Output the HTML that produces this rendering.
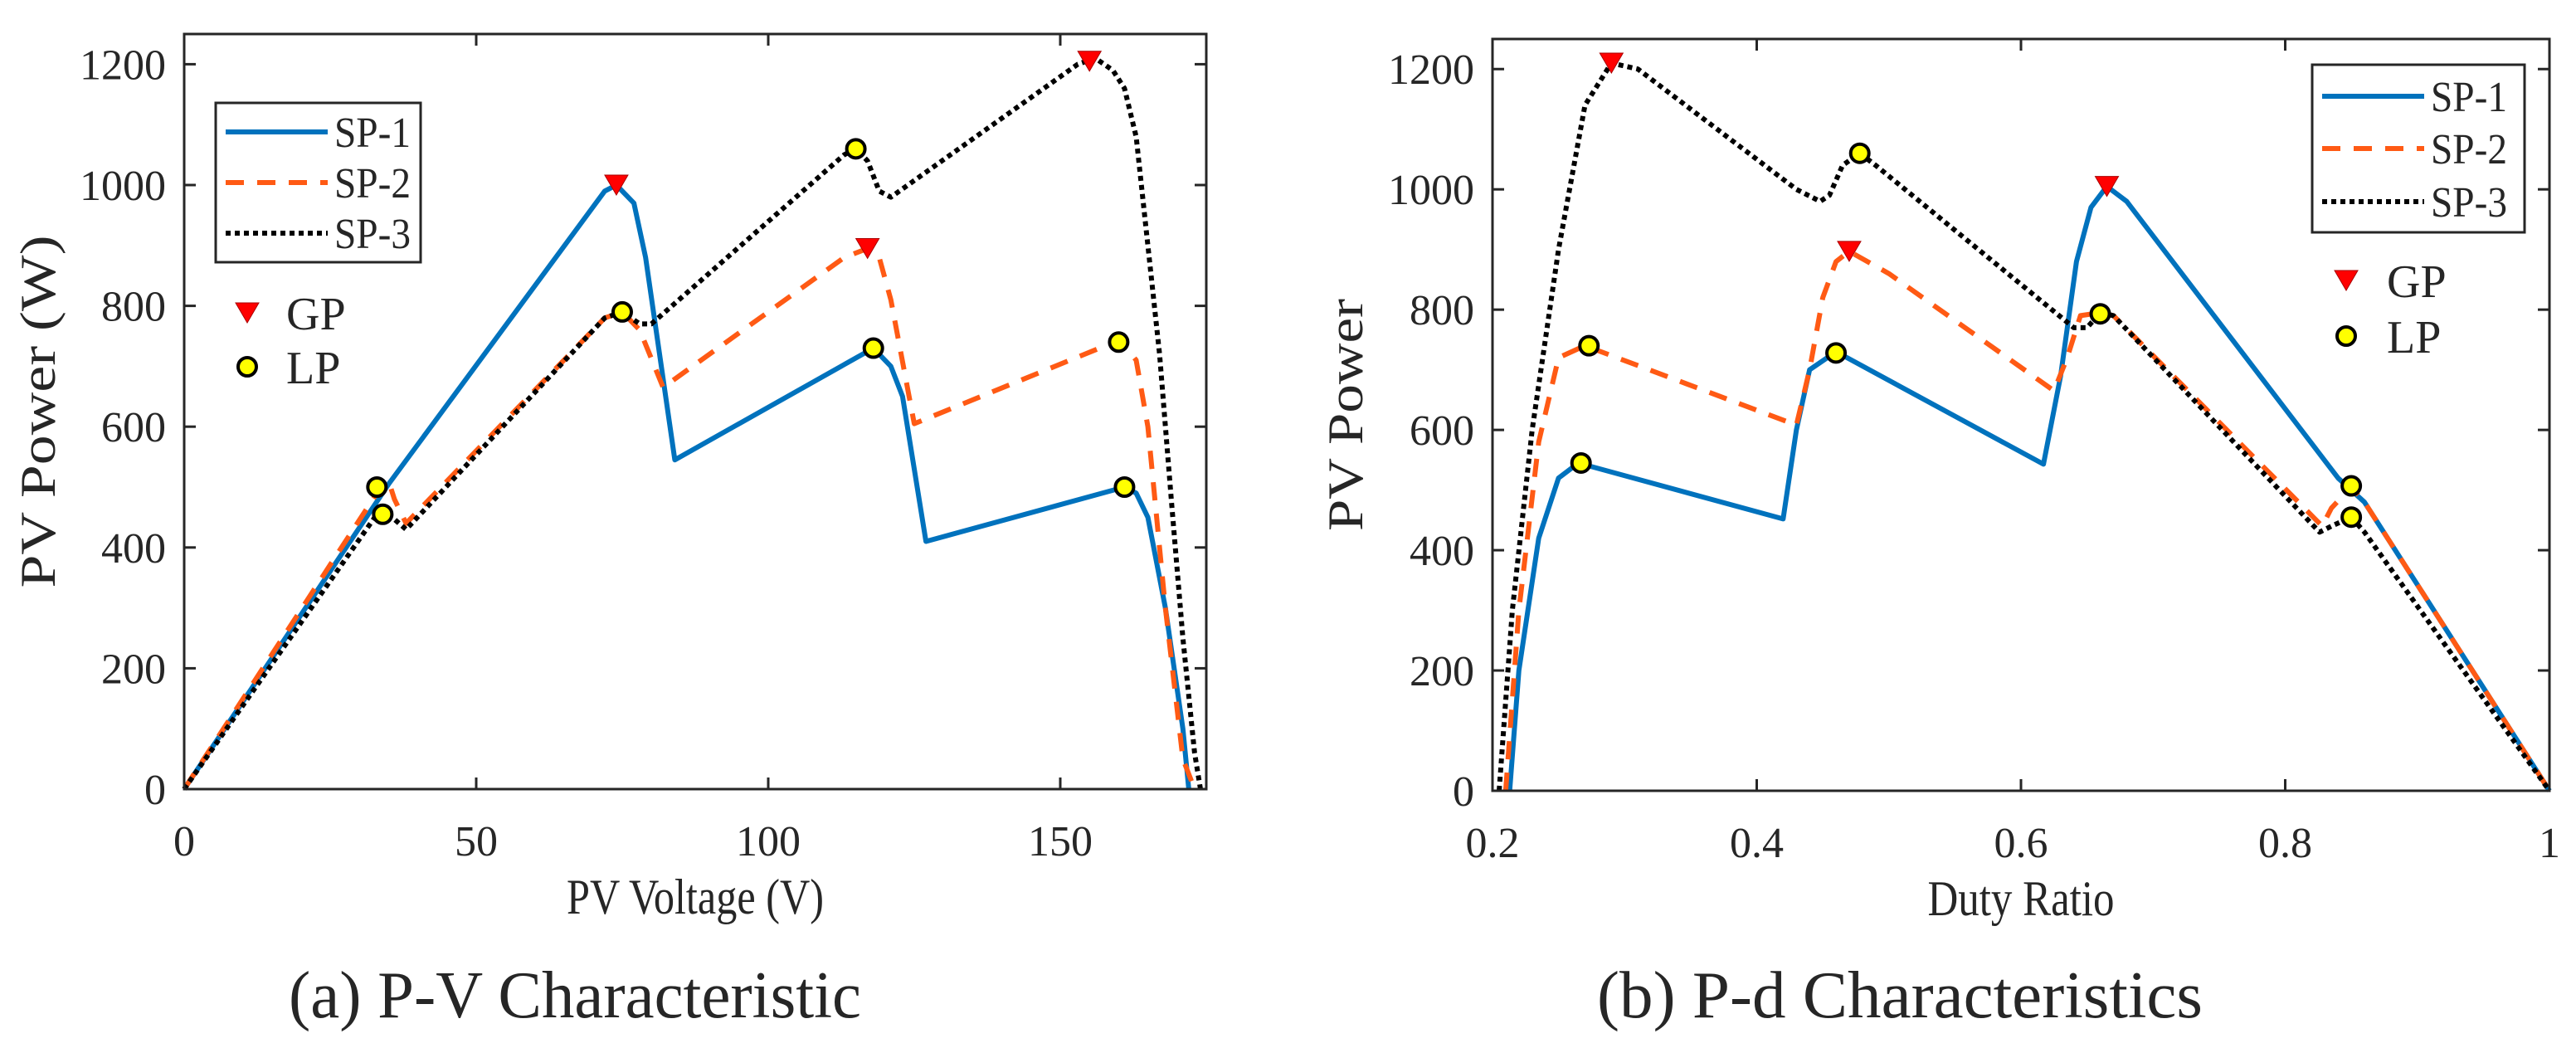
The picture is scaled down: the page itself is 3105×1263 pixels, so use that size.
<!DOCTYPE html>
<html><head><meta charset="utf-8"><style>
html,body{margin:0;padding:0;background:#fff}
svg{display:block}
text{font-family:"Liberation Serif",serif;fill:#262626}
</style></head><body>
<svg id="fig" width="3105" height="1263" viewBox="0 0 3105 1263" xmlns="http://www.w3.org/2000/svg">
<g id="pA"></g>
<g id="pB"></g>
<text x="693" y="1226" font-size="80" text-anchor="middle" textLength="690" lengthAdjust="spacingAndGlyphs" fill="#000">(a) P-V Characteristic</text>
<text x="2290" y="1226" font-size="80" text-anchor="middle" textLength="730" lengthAdjust="spacingAndGlyphs" fill="#000">(b) P-d Characteristics</text>
</svg>
<script>
// ---- Chart A data (P-V) ----
const pvX1=[0,35,72,74,77,79,84,118,121,123,127,161,163,165,168,171,172];
const pvY1=[0,505,990,1000,970,880,545,730,700,650,410,500,490,450,300,100,0];
const pvX2=[0,33,35,36,38,72,75,78,82,113,117,119,121,125,158,161,163,165,168,171,173];
const pvY2=[0,490,510,480,440,780,790,760,665,880,895,880,810,605,735,735,710,600,300,50,0];
const pvX3=[0,33,35,38,72,75,78,80,113,115,117,119,121,153,156,159,161,163,165,167,169,171,173,174];
const pvY3=[0,455,455,430,780,790,770,770,1050,1060,1040,990,980,1200,1210,1190,1160,1080,900,720,480,250,60,0];
const pvGPx=[74,117,155], pvGPy=[1000,895,1205];
const pvLPx=[33,34,75,115,118,160,161], pvLPy=[500,455,790,1060,730,740,500];
const pvXTicks=[0,50,100,150];
const pvYTicks=[0,200,400,600,800,1000,1200];
// ---- Chart B data (P-d) ----
const pdX1=[0.213,0.22,0.235,0.25,0.265,0.42,0.43,0.44,0.46,0.617,0.63,0.642,0.653,0.665,0.68,0.84,0.86,1];
const pdY1=[0,200,420,520,545,452,600,700,730,543,690,880,970,1005,980,520,480,0];
const pdX2=[0.21,0.22,0.235,0.25,0.27,0.43,0.44,0.45,0.46,0.47,0.5,0.625,0.635,0.645,0.66,0.67,0.828,0.835,0.85,0.86,1];
const pdY2=[0,300,580,720,740,608,700,820,880,897,860,665,720,790,795,790,440,470,505,480,0];
const pdX3=[0.205,0.215,0.23,0.25,0.27,0.29,0.31,0.43,0.448,0.455,0.465,0.478,0.49,0.64,0.65,0.66,0.67,0.826,0.835,0.85,0.86,1];
const pdY3=[0,300,600,900,1140,1210,1200,1000,980,990,1040,1060,1040,770,770,795,790,430,440,455,430,0];
const pdGPx=[0.29,0.47,0.665], pdGPy=[1210,897,1005];
const pdLPx=[0.267,0.273,0.46,0.478,0.66,0.85,0.85], pdLPy=[545,740,728,1060,793,507,455];
const pdXTicks=[0.2,0.4,0.6,0.8,1];
const pdXLabels=["0.2","0.4","0.6","0.8","1"];
const pdYTicks=[0,200,400,600,800,1000,1200];

const NS="http://www.w3.org/2000/svg";
function el(parent,tag,attrs){const e=document.createElementNS(NS,tag);for(const k in attrs)e.setAttribute(k,attrs[k]);parent.appendChild(e);return e;}

function chart(g,cfg){
  const sx=v=>cfg.L+(v-cfg.x0)/(cfg.x1-cfg.x0)*(cfg.R-cfg.L);
  const sy=v=>cfg.B-(v-0)/(cfg.yMax)*(cfg.B-cfg.T);
  const styles=[
    {c:"#0072BD",d:"none",n:"sp1-line"},
    {c:"#FF5A14",d:"22 16",n:"sp2-line"},
    {c:"#000",d:"6 5",n:"sp3-line"}];
  cfg.series.forEach((s,i)=>{
    const pts=s[0].map((x,j)=>sx(x).toFixed(1)+","+sy(s[1][j]).toFixed(1)).join(" ");
    const p=el(g,"polyline",{points:pts,fill:"none",stroke:styles[i].c,"stroke-width":6,"stroke-dasharray":styles[i].d,"stroke-linejoin":"round"});
    
    
  });
  cfg.gpx.forEach((x,i)=>{
    const cx=sx(x), cy=sy(cfg.gpy[i]);
    const t=el(g,"polygon",{points:`${cx-14},${cy-12} ${cx+14},${cy-12} ${cx},${cy+12}`,fill:"#f00",stroke:"#a00","stroke-width":1});
    
    
  });
  cfg.lpx.forEach((x,i)=>{
    const c=el(g,"circle",{cx:sx(x),cy:sy(cfg.lpy[i]),r:11,fill:"#ff0",stroke:"#000","stroke-width":4});
    
    
  });
  const f=el(g,"rect",{x:cfg.L,y:cfg.T,width:cfg.R-cfg.L,height:cfg.B-cfg.T,fill:"none",stroke:"#262626","stroke-width":3});
  
  
  cfg.xt.forEach((v,i)=>{
    const x=sx(v);
    el(g,"line",{x1:x,y1:cfg.B,x2:x,y2:cfg.B-14,stroke:"#262626","stroke-width":3});
    el(g,"line",{x1:x,y1:cfg.T,x2:x,y2:cfg.T+14,stroke:"#262626","stroke-width":3});
    const t=el(g,"text",{x:x,y:cfg.B+80,"font-size":52,"text-anchor":"middle"});
    t.textContent=cfg.xl[i];
    
    
  });
  cfg.yt.forEach(v=>{
    const y=sy(v);
    el(g,"line",{x1:cfg.L,y1:y,x2:cfg.L+14,y2:y,stroke:"#262626","stroke-width":3});
    el(g,"line",{x1:cfg.R,y1:y,x2:cfg.R-14,y2:y,stroke:"#262626","stroke-width":3});
    const t=el(g,"text",{x:cfg.L-22,y:y+18,"font-size":52,"text-anchor":"end"});
    t.textContent=String(v);
    
    
  });
  const xt=el(g,"text",{x:(cfg.L+cfg.R)/2,y:cfg.B+150,"font-size":60,"text-anchor":"middle",textLength:cfg.xLen,lengthAdjust:"spacingAndGlyphs"});
  xt.textContent=cfg.xTitle;
  
  
  const yt=el(g,"text",{x:0,y:0,"font-size":60,"text-anchor":"middle",textLength:cfg.yLen,lengthAdjust:"spacingAndGlyphs",transform:`translate(${cfg.yTx},${(cfg.T+cfg.B)/2}) rotate(-90)`});
  yt.textContent=cfg.yTitle;
  
  
  const lg=cfg.lg;
  const box=el(g,"rect",{x:lg.x,y:lg.y,width:lg.w,height:lg.h,fill:"#fff",stroke:"#262626","stroke-width":3});
  
  
  ["SP-1","SP-2","SP-3"].forEach((n,i)=>{
    const ly=lg.ly[i];
    el(g,"line",{x1:lg.x+12,y1:ly,x2:lg.x+135,y2:ly,stroke:styles[i].c,"stroke-width":6,"stroke-dasharray":styles[i].d});
    const t=el(g,"text",{x:lg.x+143,y:ly+18,"font-size":52,fill:"#000",textLength:92,lengthAdjust:"spacingAndGlyphs"});
    t.textContent=n;
    
    
  });
  const gx=lg.mx, gy=lg.gy;
  el(g,"polygon",{points:`${gx-14},${gy-12} ${gx+14},${gy-12} ${gx},${gy+12}`,fill:"#f00",stroke:"#a00","stroke-width":1});
  const gt=el(g,"text",{x:lg.tx,y:gy+20,"font-size":56,fill:"#000"});gt.textContent="GP";
  
  
  el(g,"circle",{cx:gx,cy:lg.ly2,r:11,fill:"#ff0",stroke:"#000","stroke-width":4});
  const lt=el(g,"text",{x:lg.tx,y:lg.ly2+20,"font-size":56,fill:"#000"});lt.textContent="LP";
  
  
}

chart(document.getElementById("pA"),{L:222,R:1454,T:41,B:951,x0:0,x1:175,yMax:1250,
  series:[[pvX1,pvY1],[pvX2,pvY2],[pvX3,pvY3]],gpx:pvGPx,gpy:pvGPy,lpx:pvLPx,lpy:pvLPy,
  xt:pvXTicks,xl:pvXTicks.map(String),yt:pvYTicks,xTitle:"PV Voltage (V)",yTitle:"PV Power (W)",yTx:66,xLen:310,yLen:425,
  lg:{x:260,y:124,w:247,h:192,ly:[159,220,281],mx:298,gy:377,ly2:442,tx:345}});
chart(document.getElementById("pB"),{L:1799,R:3073,T:47,B:953,x0:0.2,x1:1,yMax:1250,
  series:[[pdX1,pdY1],[pdX2,pdY2],[pdX3,pdY3]],gpx:pdGPx,gpy:pdGPy,lpx:pdLPx,lpy:pdLPy,
  xt:pdXTicks,xl:pdXLabels,yt:pdYTicks,xTitle:"Duty Ratio",yTitle:"PV Power",yTx:1642,xLen:225,yLen:280,
  lg:{x:2787,y:78,w:256,h:202,ly:[116,179,243],mx:2828,gy:338,ly2:405,tx:2877}});
</script>
</body></html>
